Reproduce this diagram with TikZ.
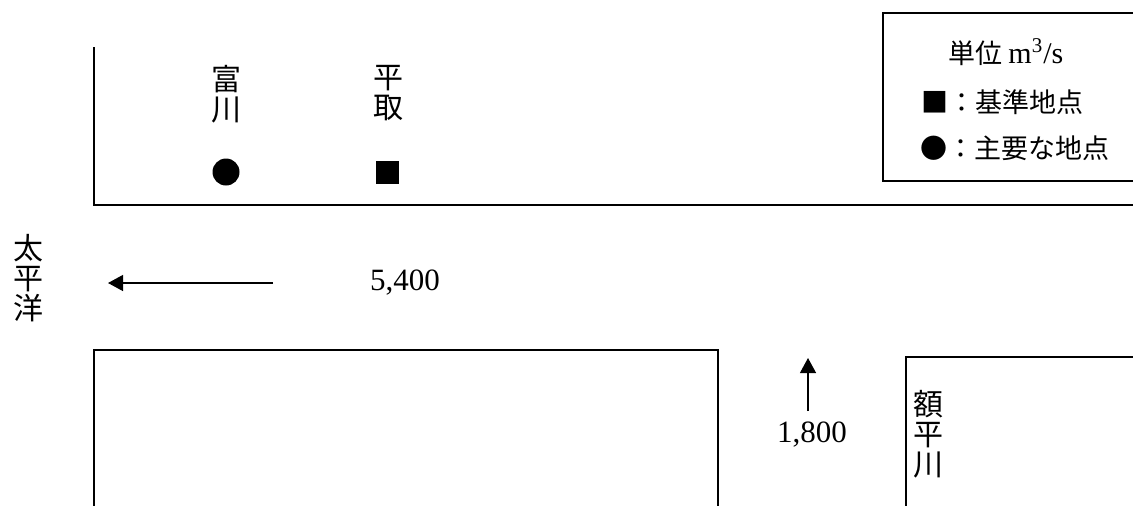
\documentclass[tikz,border=0pt]{standalone}
\usepackage{fontspec}
\setmainfont{Liberation Serif}
\newfontfamily\jpfont{Noto Sans CJK JP}
\usetikzlibrary{arrows.meta}

\begin{document}
\begin{tikzpicture}[x=0.5pt,y=-0.5pt,
    bank/.style={line width=1pt},
    flow/.style={line width=0.6pt,-{Triangle[length=7.5pt,width=8pt]}},
    num/.style={font=\fontsize{15.5}{15}\selectfont,inner sep=0pt},
    vname/.style={font=\jpfont\fontsize{15}{15}\selectfont,align=center,inner sep=0pt},
    legtxt/.style={font=\jpfont\fontsize{13.5}{15}\selectfont,anchor=west,inner sep=0pt}]
    \useasboundingbox (0,0) rectangle (1133,505);
    % river banks
    \draw[bank] (94,47) -- (94,205) -- (1140,205);
    \draw[bank] (94,510) -- (94,350) -- (718,350) -- (718,510);
    \draw[bank] (906,510) -- (906,357) -- (1140,357);
    % legend
    \draw[bank] (1140,13) -- (883,13) -- (883,181) -- (1140,181);
    \node[legtxt] (unit) at (948,52) {単位 {\rmfamily\fontsize{15}{15}\selectfont m\textsuperscript{3}/s}};
    \node[legtxt] (lgbase) at (921,102) {■：基準地点};
    \node[legtxt] (lgmain) at (920,148) {●：主要な地点};
    % stations
    \node[vname] (tomikawa) at (226,94) {富\\川};
    \node[vname] (biratori) at (388,93) {平\\取};
    \node[circle,fill,inner sep=0pt,minimum size=13.5pt] (ptmain) at (226,172) {};
    \node[rectangle,fill,inner sep=0pt,minimum size=11.5pt] (ptbase) at (387,172) {};
    % sea and tributary
    \node[vname] (sea) at (28,278) {太\\平\\洋};
    \node[vname] (nukabira) at (928,434) {額\\平\\川};
    % flows
    \coordinate (mainS) at (273,283);
    \coordinate (mainE) at (108,283);
    \draw[flow] (mainS) -- (mainE);
    \node[num] (qmain) at (405,283) {5,400};
    \coordinate (tribS) at (808,411);
    \coordinate (tribE) at (808,358);
    \draw[flow] (tribS) -- (tribE);
    \node[num] (qtrib) at (812,435) {1,800};
\end{tikzpicture}
\end{document}
